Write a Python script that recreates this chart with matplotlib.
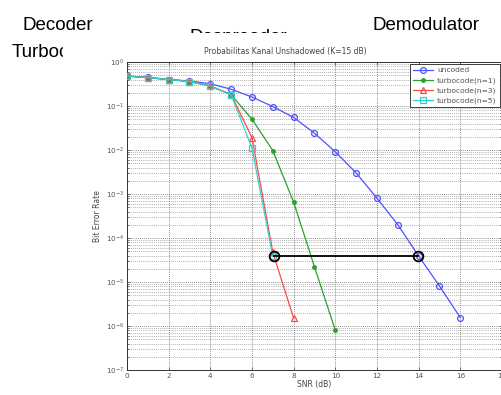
import math
import matplotlib
matplotlib.use("Agg")
import matplotlib.pyplot as plt
from matplotlib.patches import Rectangle
from matplotlib.ticker import LogLocator, NullFormatter, FixedLocator

# ---- data ----
snr_uncoded = list(range(0, 17))
ber_uncoded = [0.48, 0.45, 0.40, 0.37, 0.32, 0.24, 0.16, 0.097, 0.055, 0.024,
               0.0091, 0.003, 8e-4, 2e-4, 3.9e-5, 8.1e-6, 1.55e-6]
snr_n1 = list(range(0, 11))
ber_n1 = [0.48, 0.44, 0.40, 0.36, 0.285, 0.18, 0.05, 0.0097, 6.5e-4, 2.2e-5, 8e-7]
snr_n3 = list(range(0, 9))
ber_n3 = [0.48, 0.44, 0.40, 0.36, 0.285, 0.18, 0.019, 4.7e-5, 1.5e-6]
snr_n5 = list(range(0, 8))
ber_n5 = [0.48, 0.44, 0.40, 0.36, 0.285, 0.18, 0.011, 3.8e-5]
gap_snr = [7.05, 13.95]
gap_ber = [4.0e-5, 4.0e-5]
labels = ["uncoded", "turbocode(n=1)", "turbocode(n=3)", "turbocode(n=5)"]
xticks = [0, 2, 4, 6, 8, 10, 12, 14, 16, 18]
yticks = [1e0, 1e-1, 1e-2, 1e-3, 1e-4, 1e-5, 1e-6, 1e-7]

W, H = 502, 395
fig = plt.figure(figsize=(W / 100, H / 100), dpi=100)
fig.patch.set_facecolor("white")

def px(x, y):
    return x / W, 1 - y / H

big = dict(family=["Liberation Sans", "DejaVu Sans"], fontsize=13.5, color="black")
fig.text(*px(22, 30), "Decoder", ha="left", va="baseline", **big)
fig.text(*px(12, 57), "Turbocoder", ha="left", va="baseline", **big)
fig.text(*px(373, 30), "Demodulator", ha="left", va="baseline", **big)
fig.text(*px(190, 42), "Despreader", ha="left", va="baseline", **big)

# white panel of the embedded plot image (covers parts of surrounding text)
fig.add_artist(Rectangle(px(63, 60), (W - 63) / W, 27 / H,
                         transform=fig.transFigure, facecolor="white",
                         edgecolor="none", zorder=5))

ax = fig.add_axes([127 / W, 1 - 370 / H, 375 / W, 308 / H])
ax.set_zorder(6)
ax.set_yscale("log")
ax.set_xlim(0, 18)
ax.set_ylim(1e-7, 1e0)

lw = 0.9
ax.plot(snr_uncoded, ber_uncoded, color="#5050ff", marker="o", ms=4.2,
        mfc="none", mew=0.9, lw=lw, label=labels[0], zorder=3)
ax.plot(snr_n1, ber_n1, color="#2aa02a", marker=".", ms=5, lw=lw,
        label=labels[1], zorder=3)
ax.plot(snr_n3, ber_n3, color="#ff4848", marker="^", ms=4.2, mfc="none",
        mew=0.9, lw=lw, label=labels[2], zorder=3)
ax.plot(snr_n5, ber_n5, color="#30d0d0", marker="s", ms=4.0, mfc="none",
        mew=0.9, lw=lw, label=labels[3], zorder=3)
ax.plot(gap_snr, gap_ber, color="black", marker="o", ms=7, mfc="none",
        mew=1.3, lw=1.3, zorder=4)

ax.xaxis.set_major_locator(FixedLocator(xticks))
ax.yaxis.set_major_locator(FixedLocator(yticks))
ax.yaxis.set_minor_locator(LogLocator(base=10, subs=range(2, 10), numticks=20))
ax.yaxis.set_minor_formatter(NullFormatter())
ax.set_xticklabels([str(t) for t in xticks])
ax.set_yticklabels([r"$10^{%d}$" % round(math.log10(t)) for t in yticks])

ax.grid(True, which="major", axis="both", linestyle=(0, (1, 1.5)),
        color="#666666", linewidth=0.6)
ax.grid(True, which="minor", axis="y", linestyle=(0, (1, 1.5)),
        color="#888888", linewidth=0.55)
ax.tick_params(which="both", direction="in", top=True, right=True,
               labelsize=5.2, labelcolor="#555555", color="#444444",
               length=2.5, width=0.5, pad=2)
ax.tick_params(which="minor", length=1.5)
for s in ax.spines.values():
    s.set_color("#333333")
    s.set_linewidth(0.7)

ax.set_xlabel("SNR (dB)", fontsize=5.5, color="#444444", labelpad=1)
ax.set_ylabel("Bit Error Rate", fontsize=5.5, color="#444444", labelpad=3)
ax.text(0.421, 1.02, "Probabilitas Kanal Unshadowed (K=15 dB)", transform=ax.transAxes,
        ha="center", va="bottom", fontsize=5.5, color="#444444")

leg = ax.legend(loc="upper right", fontsize=5.4, frameon=True, fancybox=False,
                borderpad=0.4, handlelength=2.6, labelspacing=0.45,
                borderaxespad=0.3, handletextpad=0.6)
leg.get_frame().set_edgecolor("#222222")
leg.get_frame().set_linewidth(0.6)
leg.get_frame().set_alpha(1)
for t in leg.get_texts():
    t.set_color("#555555")

fig.savefig("out.png", dpi=100, facecolor="white")
